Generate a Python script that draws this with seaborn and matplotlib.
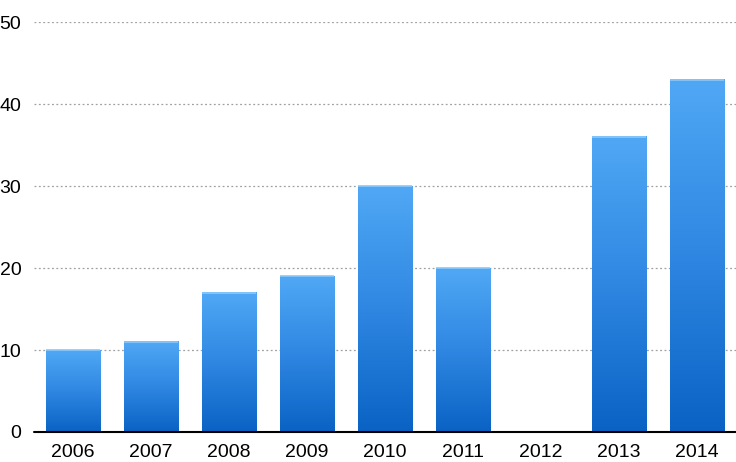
import numpy as np
import pandas as pd
import seaborn as sns
import matplotlib
matplotlib.use("Agg")
import matplotlib.pyplot as plt
from matplotlib.colors import LinearSegmentedColormap

# chart data
years = ["2006", "2007", "2008", "2009", "2010", "2011", "2012", "2013", "2014"]
values = [10, 11, 17, 19, 30, 20, 0, 36, 43]
y_ticks = [0, 10, 20, 30, 40, 50]

df = pd.DataFrame({"year": years, "value": values})

sns.set_style("white")
plt.rcParams["font.family"] = ["Liberation Sans", "DejaVu Sans"]

fig = plt.figure(figsize=(7.36, 4.62), dpi=100)
ax = fig.add_axes([0.046, 0.065, 0.954, 0.887])

sns.barplot(data=df, x="year", y="value", color="#2f86e0", width=0.7, ax=ax,
            saturation=1, zorder=3)

# vertical gradient per bar, light on top, dark at the bottom
grad = LinearSegmentedColormap.from_list("bar_grad", ["#0a63c4", "#2f87e2", "#50a8f5"])
g = np.linspace(0, 1, 256).reshape(-1, 1)
for bar in ax.patches:
    h = bar.get_height()
    if h <= 0:
        continue
    x0, w = bar.get_x(), bar.get_width()
    bar.set_alpha(0)
    ax.imshow(g, cmap=grad, origin="lower", aspect="auto",
              extent=[x0, x0 + w, 0, h], zorder=3)
    # light rim along the top edge
    ax.plot([x0, x0 + w], [h, h], color="#8cc8fa", lw=1.2, zorder=4,
            solid_capstyle="butt")

ax.set_xlim(-0.5, len(years) - 0.5)
ax.set_ylim(0, 50)
ax.set_yticks(y_ticks)
ax.set_xlabel("")
ax.set_ylabel("")

for t in y_ticks[1:]:
    ax.axhline(t, color="#a0a0a0", lw=0.9, ls=(0, (1.5, 2)), zorder=1)
ax.axhline(0, color="black", lw=1.5, zorder=5, clip_on=False)

for s in ax.spines.values():
    s.set_visible(False)
ax.tick_params(axis="both", length=0, labelsize=14, colors="black")
ax.tick_params(axis="y", pad=9)
ax.tick_params(axis="x", pad=9)

fig.savefig("out.png", dpi=100)
